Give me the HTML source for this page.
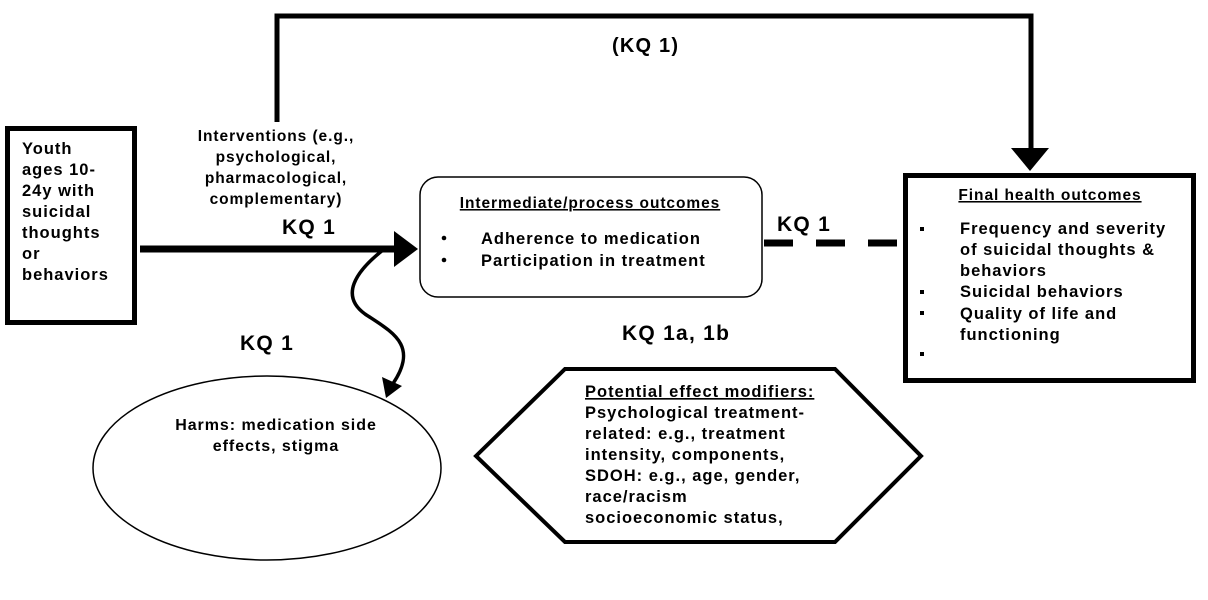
<!DOCTYPE html>
<html><head><style>
body{margin:0;background:#fff}
svg{display:block}
text{font-family:"Liberation Sans",Arial,sans-serif;font-weight:bold;fill:#000;letter-spacing:0.06em}
</style></head><body>
<svg width="1208" height="600" viewBox="0 0 1208 600" xmlns="http://www.w3.org/2000/svg">
<rect x="0" y="0" width="1208" height="600" fill="#fff"/>
<polyline points="277,122 277,16 1031,16 1031,150" fill="none" stroke="#000" stroke-width="5"/>
<polygon points="1011,148 1049,148 1030,171" fill="#000"/>
<text x="612" y="52" font-size="20">(KQ 1)</text>
<rect x="7.5" y="128.5" width="127" height="194" fill="none" stroke="#000" stroke-width="5"/>
<g font-size="16.5">
<text x="22" y="154">Youth</text>
<text x="22" y="175">ages 10-</text>
<text x="22" y="196">24y with</text>
<text x="22" y="217">suicidal</text>
<text x="22" y="238">thoughts</text>
<text x="22" y="259">or</text>
<text x="22" y="280">behaviors</text>
</g>
<g font-size="15.5" text-anchor="middle">
<text x="276" y="141">Interventions (e.g.,</text>
<text x="276" y="162">psychological,</text>
<text x="276" y="183">pharmacological,</text>
<text x="276" y="204">complementary)</text>
</g>
<text x="282" y="234" font-size="21">KQ 1</text>
<line x1="140" y1="249" x2="396" y2="249" stroke="#000" stroke-width="7"/>
<polygon points="394,231 394,267 418,249" fill="#000"/>
<rect x="420" y="177" width="342" height="120" rx="18" fill="none" stroke="#000" stroke-width="1.5"/>
<text x="590" y="208" font-size="15.5" text-anchor="middle" text-decoration="underline">Intermediate/process outcomes</text>
<circle cx="444" cy="238" r="2.3" fill="#000"/>
<circle cx="444" cy="260" r="2.3" fill="#000"/>
<text x="481" y="244" font-size="16.5">Adherence to medication</text>
<text x="481" y="266" font-size="16.5">Participation in treatment</text>
<line x1="764" y1="243" x2="898" y2="243" stroke="#000" stroke-width="7" stroke-dasharray="29,23"/>
<text x="777" y="231" font-size="21">KQ 1</text>
<rect x="905.5" y="175.5" width="288" height="205" fill="none" stroke="#000" stroke-width="5"/>
<text x="1050" y="200" font-size="15.5" text-anchor="middle" text-decoration="underline">Final health outcomes</text>
<g font-size="16.5">
<rect x="920" y="227" width="4" height="4" fill="#000"/>
<text x="960" y="234">Frequency and severity</text>
<text x="960" y="255">of suicidal thoughts &amp;</text>
<text x="960" y="276">behaviors</text>
<rect x="920" y="290" width="4" height="4" fill="#000"/>
<text x="960" y="297">Suicidal behaviors</text>
<rect x="920" y="311" width="4" height="4" fill="#000"/>
<text x="960" y="319">Quality of life and</text>
<text x="960" y="340">functioning</text>
<rect x="920" y="352" width="4" height="4" fill="#000"/>
</g>
<text x="622" y="340" font-size="21">KQ 1a, 1b</text>
<text x="240" y="350" font-size="21">KQ 1</text>
<path d="M383,250 C355,272 340,296 365,314 C392,332 420,345 392,385" fill="none" stroke="#000" stroke-width="3.5"/>
<polygon points="382,377 402,386 386,398" fill="#000"/>
<ellipse cx="267" cy="468" rx="174" ry="92" fill="none" stroke="#000" stroke-width="1.5"/>
<text x="276" y="430" font-size="16" text-anchor="middle">Harms: medication side</text>
<text x="276" y="451" font-size="16" text-anchor="middle">effects, stigma</text>
<polygon points="476,456 565,369 835,369 921,456 835,542 565,542" fill="none" stroke="#000" stroke-width="4"/>
<g font-size="16.5">
<text x="585" y="397" text-decoration="underline">Potential effect modifiers:</text>
<text x="585" y="418">Psychological treatment-</text>
<text x="585" y="439">related: e.g., treatment</text>
<text x="585" y="460">intensity, components,</text>
<text x="585" y="481">SDOH: e.g., age, gender,</text>
<text x="585" y="502">race/racism</text>
<text x="585" y="523">socioeconomic status,</text>
</g>
</svg>
</body></html>
